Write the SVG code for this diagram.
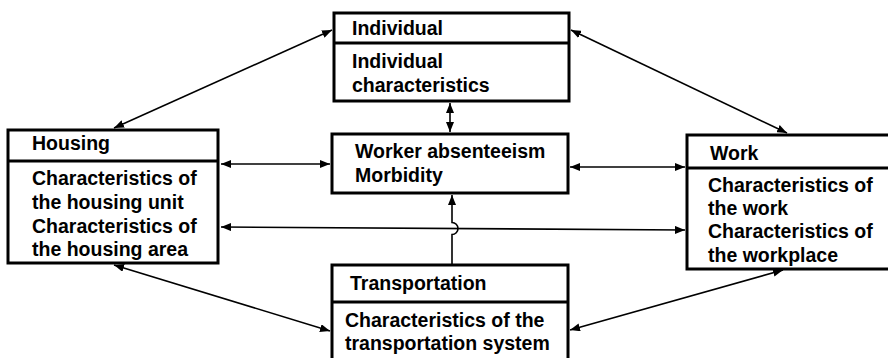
<svg xmlns="http://www.w3.org/2000/svg" width="888" height="358" viewBox="0 0 888 358">
<style>
.box{fill:#fff;stroke:#000;stroke-width:3}
.sep{stroke:#000;stroke-width:3;fill:none}
.t{font-family:"Liberation Sans",Arial,sans-serif;font-weight:bold;font-size:19.5px;fill:#000}
.c{stroke:#000;stroke-width:1.6;fill:none}
</style>
<defs>
<marker id="ah" viewBox="0 0 10 8" refX="10" refY="4" markerWidth="10" markerHeight="8" markerUnits="userSpaceOnUse" orient="auto-start-reverse">
<path d="M0,0 L10,4 L0,8 Z" fill="#000"/>
</marker>
</defs>
<rect width="888" height="358" fill="#fff"/>
<g id="connectors">
<line class="c" x1="114" y1="128" x2="332" y2="30" marker-start="url(#ah)" marker-end="url(#ah)"/>
<line class="c" x1="571" y1="30" x2="787" y2="133" marker-start="url(#ah)" marker-end="url(#ah)"/>
<line class="c" x1="450" y1="103" x2="450" y2="132" marker-start="url(#ah)" marker-end="url(#ah)"/>
<line class="c" x1="221" y1="164" x2="330" y2="164" marker-start="url(#ah)" marker-end="url(#ah)"/>
<line class="c" x1="570" y1="167" x2="685" y2="167" marker-start="url(#ah)" marker-end="url(#ah)"/>
<line class="c" x1="221" y1="227" x2="685" y2="230" marker-start="url(#ah)" marker-end="url(#ah)"/>
<path class="c" d="M452,265 V234.5 A6,6 0 0 0 452,222.5 V195" marker-end="url(#ah)"/>
<line class="c" x1="114" y1="265" x2="330" y2="331" marker-start="url(#ah)" marker-end="url(#ah)"/>
<line class="c" x1="783" y1="270" x2="570" y2="330" marker-start="url(#ah)" marker-end="url(#ah)"/>
</g>
<g id="individual">
<rect class="box" x="334" y="13" width="235" height="88"/>
<line class="sep" x1="334" y1="43" x2="569" y2="43"/>
<text class="t" x="352" y="35">Individual</text>
<text class="t" x="352" y="68">Individual</text>
<text class="t" x="352" y="92">characteristics</text>
</g>
<g id="housing">
<rect class="box" x="8" y="130" width="210" height="133"/>
<line class="sep" x1="8" y1="161" x2="218" y2="161"/>
<text class="t" x="32" y="150">Housing</text>
<text class="t" x="32" y="185">Characteristics of</text>
<text class="t" x="32" y="209">the housing unit</text>
<text class="t" x="32" y="233">Characteristics of</text>
<text class="t" x="32" y="256">the housing area</text>
</g>
<g id="worker">
<rect class="box" x="332" y="134" width="236" height="59"/>
<text class="t" x="355" y="158">Worker absenteeism</text>
<text class="t" x="355" y="182">Morbidity</text>
</g>
<g id="work">
<rect class="box" x="687" y="135" width="210" height="134"/>
<line class="sep" x1="687" y1="168" x2="897" y2="168"/>
<text class="t" x="710" y="160">Work</text>
<text class="t" x="708" y="192">Characteristics of</text>
<text class="t" x="708" y="215">the work</text>
<text class="t" x="708" y="238">Characteristics of</text>
<text class="t" x="708" y="262">the workplace</text>
</g>
<g id="transportation">
<rect class="box" x="332" y="265" width="236" height="100"/>
<line class="sep" x1="332" y1="302" x2="568" y2="302"/>
<text class="t" x="350" y="290">Transportation</text>
<text class="t" x="345" y="327">Characteristics of the</text>
<text class="t" x="345" y="350">transportation system</text>
</g>
</svg>
